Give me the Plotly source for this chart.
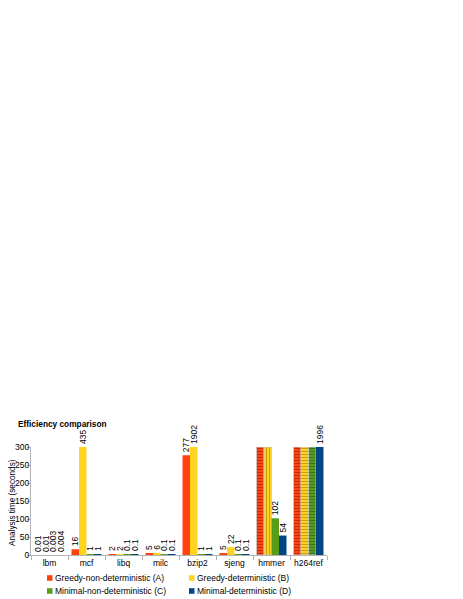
import plotly.graph_objects as go

FONT = "Liberation Sans, Arial, sans-serif"
FS = 8.5
YMAX = 300

benchmarks = ["lbm", "mcf", "libq", "milc", "bzip2", "sjeng", "hmmer", "h264ref"]
# None = timeout (drawn hatched, capped at the axis top)
greedy_nondet = [0.01, 16, 2, 5, 277, 5, None, None]
greedy_det = [0.01, 435, 2, 6, 1902, 22, None, None]
minimal_nondet = [0.003, 1, 0.1, 0.1, 1, 0.1, 102, None]
minimal_det = [0.004, 1, 0.1, 0.1, 1, 0.1, 54, 1996]

series = [
    ("Greedy-non-deterministic (A)", greedy_nondet, "#ff420e", "#7a1a00"),
    ("Greedy-deterministic (B)", greedy_det, "#ffd320", "#8a6a00"),
    ("Minimal-non-deterministic (C)", minimal_nondet, "#579d1c", "#2a4d0a"),
    ("Minimal-deterministic (D)", minimal_det, "#004586", "#002244"),
]

# page body has an 8px margin, so figure coords = page coords - 8
L, R, T, B = 23, 319, 439, 547
W, H = 463, 599


def px(x):
    return (x - L) / (R - L)


def py(y):
    return (B - y) / (B - T)


fig = go.Figure()
for name, vals, color, dark in series:
    ys = [YMAX if v is None else min(v, YMAX) for v in vals]
    txt = ["" if v is None else "%g" % v for v in vals]
    shapes = []
    for v, b in zip(vals, benchmarks):
        if v is None:
            shapes.append("|" if (b == "hmmer" and name.startswith("Greedy-det")) else "-")
        else:
            shapes.append("")
    lw = [0.8 if v is None else 0 for v in vals]
    fig.add_trace(go.Bar(
        name=name, x=benchmarks, y=ys, text=txt,
        textposition="outside", textangle=-90, cliponaxis=False,
        constraintext="none",
        textfont=dict(size=FS, color="#000000", family=FONT),
        marker=dict(color=color,
                    line=dict(color="#c8c8c8", width=lw),
                    pattern=dict(shape=shapes, fillmode="overlay",
                                 fgcolor=dark, size=3, solidity=0.35)),
        showlegend=False, hoverinfo="skip"))

# legend drawn as squares + labels, two columns
legend_pos = [(39, 570), (181, 570), (39, 583), (181, 583)]
for (name, _, color, _), (lx, ly) in zip(series, legend_pos):
    fig.add_shape(type="rect", xref="paper", yref="paper",
                  x0=px(lx), x1=px(lx + 5.5), y0=py(ly + 2.8), y1=py(ly - 2.8),
                  fillcolor=color, line=dict(width=0))
    fig.add_annotation(xref="paper", yref="paper", x=px(lx + 6), y=py(ly),
                       xanchor="left", yanchor="middle", showarrow=False,
                       text=name, font=dict(size=FS, family=FONT, color="#000000"))

# y-axis title
fig.add_annotation(xref="paper", yref="paper", x=px(-2.5), y=py(495),
                   xanchor="left", yanchor="middle", showarrow=False, textangle=-90,
                   text="Analysis time (seconds)",
                   font=dict(size=8.2, family=FONT, color="#000000"))

fig.update_layout(
    width=W, height=H,
    margin=dict(l=L, r=W - R, t=T, b=H - B, autoexpand=False),
    paper_bgcolor="white", plot_bgcolor="white",
    font=dict(family=FONT, size=FS, color="#000000"),
    barmode="group", bargap=0.19, bargroupgap=0,
    title=dict(text="<b>Efficiency comparison</b>", x=10 / W, xanchor="left",
               y=1 - 416 / H, yanchor="middle", font=dict(size=8.3, family=FONT)),
    showlegend=False,
)
fig.update_xaxes(showline=True, linecolor="#b3b3b3", linewidth=1, automargin=False,
                 ticks="outside", tickson="boundaries", tickcolor="#b3b3b3",
                 ticklen=4, showgrid=False, tickangle=0, tickfont=dict(size=FS))
fig.update_yaxes(range=[0, YMAX], dtick=50, showline=True, linecolor="#b3b3b3",
                 ticks="outside", tickcolor="#b3b3b3", ticklen=3, showgrid=False,
                 zeroline=False, tickfont=dict(size=FS), automargin=False,
                 ticklabelstandoff=-4)

fig.write_html("out.html")
